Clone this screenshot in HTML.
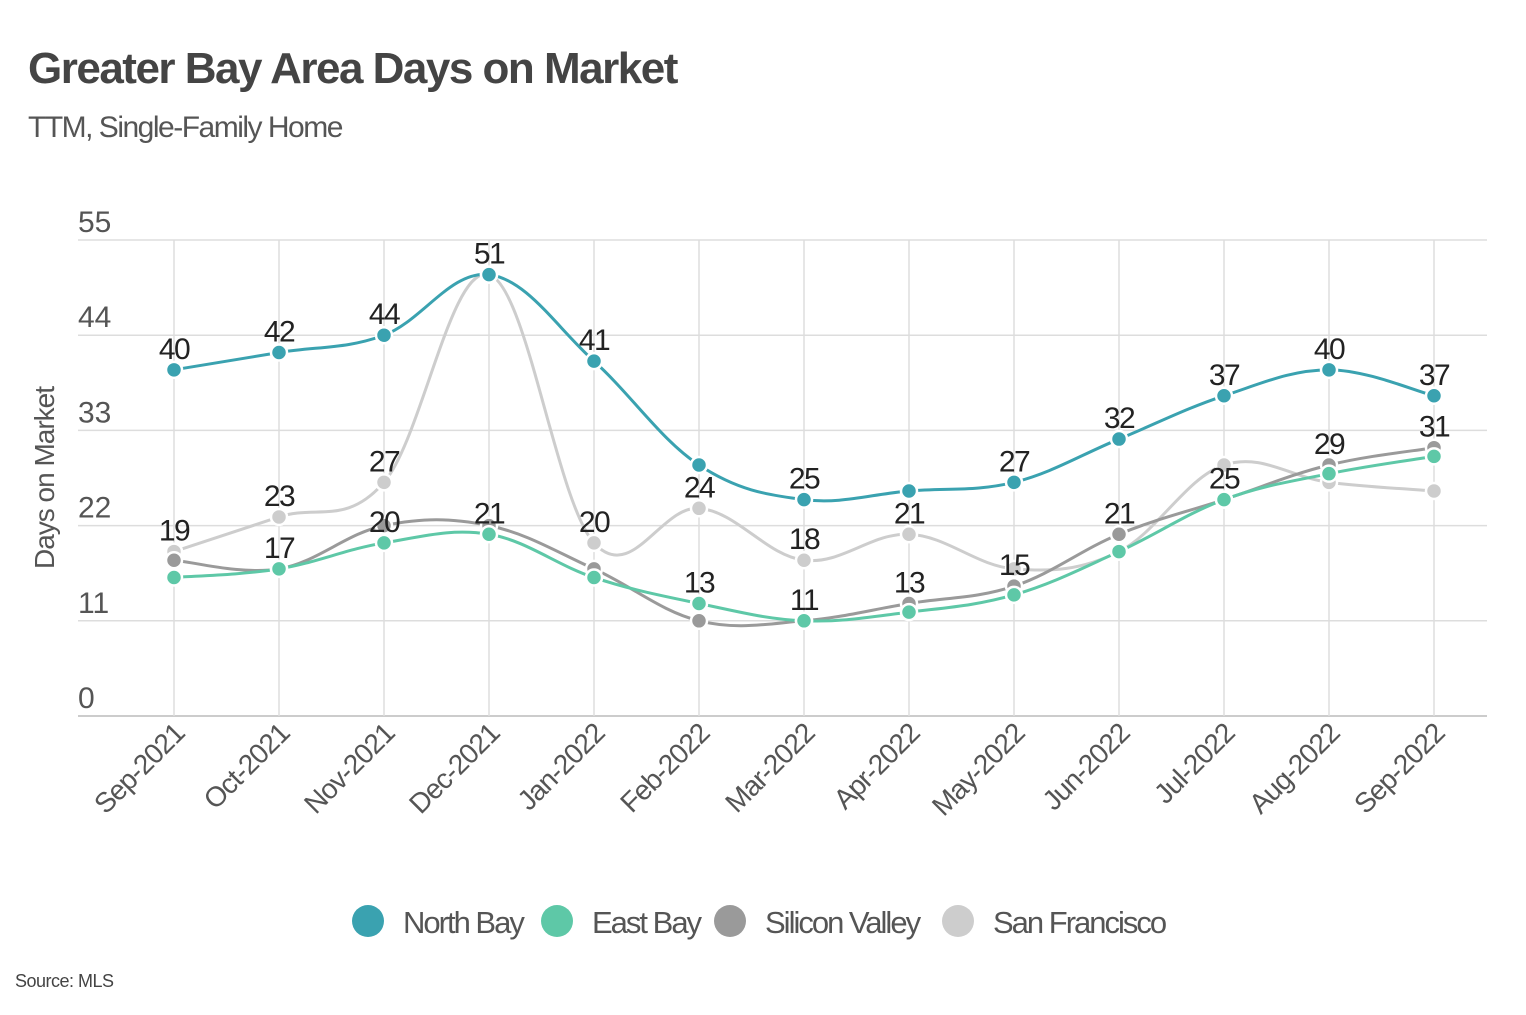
<!DOCTYPE html>
<html><head><meta charset="utf-8">
<style>
body{margin:0;background:#fff;width:1526px;height:1010px;overflow:hidden;font-family:"Liberation Sans",sans-serif;}
svg text{font-family:"Liberation Sans Narrow","Liberation Sans",sans-serif;}
</style></head>
<body>
<svg width="1526" height="1010">
<text x="28" y="83" font-size="44" font-weight="bold" fill="#444" letter-spacing="-1.5">Greater Bay Area Days on Market</text>
<text x="28" y="137" font-size="30" fill="#555" letter-spacing="-1.5">TTM, Single-Family Home</text>
<text transform="translate(54,478) rotate(-90)" text-anchor="middle" font-size="28" fill="#555" letter-spacing="-1">Days on Market</text>
<g id="grid"></g><g id="lines"></g><g id="pts"></g><g id="lbls"></g>
<g id="legend"></g>
<text x="15" y="987" font-size="18" fill="#444" letter-spacing="-0.5">Source:  MLS</text>
</svg>
<script>
const months=["Sep-2021","Oct-2021","Nov-2021","Dec-2021","Jan-2022","Feb-2022","Mar-2022","Apr-2022","May-2022","Jun-2022","Jul-2022","Aug-2022","Sep-2022"];
const yTicks=[0,11,22,33,44,55];
const northBay=[40,42,44,51,41,29,25,26,27,32,37,40,37];
const eastBay=[16,17,20,21,16,13,11,12,14,19,25,28,30];
const siliconValley=[18,17,22,22,17,11,11,13,15,21,25,29,31];
const sanFrancisco=[19,23,27,51,20,24,18,21,17,19,29,27,26];
const seriesNames=["North Bay","East Bay","Silicon Valley","San Francisco"];
const labelSeries=[[0,3],[0,3,2],[0,3,1],[0,1],[0,3],[3,1],[0,3,2],[3,2],[0,2],[0,2],[0,2],[0,2],[0,2]];
const colors=["#3aa2b0","#5ec8a7","#9a9a9a","#cdcdcd"];
const data=[northBay,eastBay,siliconValley,sanFrancisco];
const NS="http://www.w3.org/2000/svg";
const x=i=>174+i*105, y=v=>716-v*(476/55);
function mk(t,a,p){const e=document.createElementNS(NS,t);for(const k in a)e.setAttribute(k,a[k]);p.appendChild(e);return e;}
const g=document.getElementById('grid');
yTicks.forEach(t=>{
 const l=mk('line',{x1:78,x2:1487,y1:y(t),y2:y(t),stroke:t==0?'#bbb':'#ddd','stroke-width':1.5},g);
 
 
 const tx=mk('text',{x:78,y:y(t)-8,'font-size':30,fill:'#555'},g);tx.textContent=t;
 
 
});
months.forEach((m,i)=>{
 const l=mk('line',{x1:x(i),x2:x(i),y1:240,y2:716,stroke:'#ddd','stroke-width':1.5},g);
 
 
 const tx=mk('text',{transform:`translate(${x(i)+12},${735}) rotate(-45)`,'text-anchor':'end','font-size':28,fill:'#555','letter-spacing':-1},g);tx.textContent=m;
 
 
});
function path(vals){
 const p=vals.map((v,i)=>[x(i),y(v)]);let d=`M${p[0][0]},${p[0][1]}`;
 for(let i=0;i<p.length-1;i++){const p0=p[i-1]||p[i],p1=p[i],p2=p[i+1],p3=p[i+2]||p2;const t=0.18;
  d+=` C${p1[0]+(p2[0]-p0[0])*t},${p1[1]+(p2[1]-p0[1])*t} ${p2[0]-(p3[0]-p1[0])*t},${p2[1]-(p3[1]-p1[1])*t} ${p2[0]},${p2[1]}`;}
 return d;}
const L=document.getElementById('lines'),P=document.getElementById('pts'),B=document.getElementById('lbls');
[3,2,1,0].forEach(s=>{
 const pa=mk('path',{d:path(data[s]),fill:'none',stroke:colors[s],'stroke-width':3},L);
 
 
 data[s].forEach((v,i)=>{const c=mk('circle',{cx:x(i),cy:y(v),r:8,fill:colors[s],stroke:'#fff','stroke-width':2.5},P);
  
  });
});
labelSeries.forEach((ss,i)=>ss.forEach(s=>{
 const v=data[s][i];const t=mk('text',{x:x(i),y:y(v)-11,'text-anchor':'middle','font-size':30,fill:'#222','letter-spacing':-1.5},B);t.textContent=v;
 
 
}));
const lg=document.getElementById('legend');const lx=[368,557,730,958];
seriesNames.forEach((n,s)=>{
 const c=mk('circle',{cx:lx[s],cy:921,r:16,fill:colors[s]},lg);
 
 
 const t=mk('text',{x:lx[s]+35,y:933,'font-size':31,fill:'#555','letter-spacing':-2},lg);t.textContent=n;
 
 
});
</script>
</body></html>
